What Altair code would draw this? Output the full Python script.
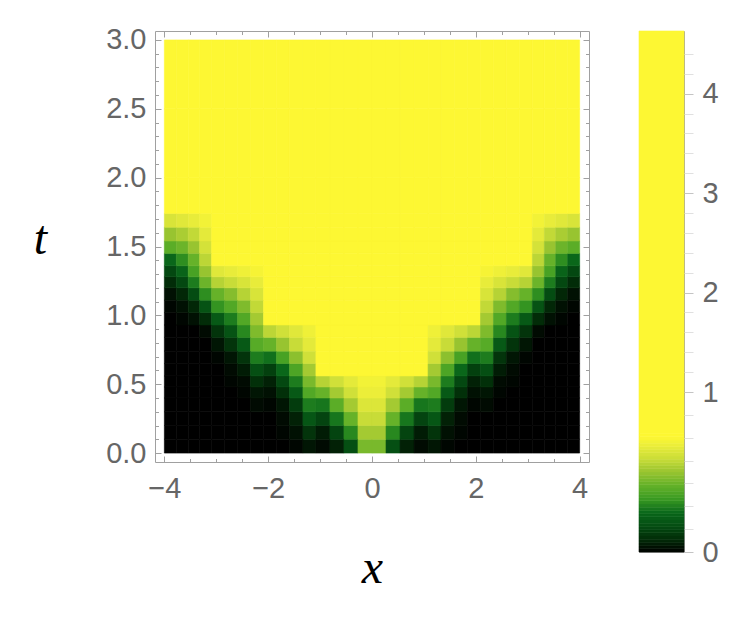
import altair as alt
import pandas as pd
import numpy as np

# cell edges (x blocks and t rows)
X_EDGES = [-4.0, -3.77, -3.54, -3.32, -3.09, -2.84, -2.59, -2.34, -2.09, -1.84, -1.59, -1.33,
           -1.08, -0.81, -0.54, -0.27, 0.0, 0.27, 0.54, 0.81, 1.08, 1.33, 1.59, 1.84,
           2.09, 2.34, 2.59, 2.84, 3.09, 3.32, 3.54, 3.77, 4.0]
T_EDGES = [0.0, 0.1, 0.2, 0.3, 0.4, 0.48, 0.56, 0.65, 0.74, 0.84, 0.93, 1.02, 1.11, 1.2,
           1.28, 1.36, 1.45, 1.54, 1.64, 1.74, 2.0, 2.5, 3.0]

# values, one row per t band (bottom to top), one entry per x cell (left to right)
VALUES = [
    [0, 0, 0, 0, 0, 0, 0, 0, 0, 0, .01, .04, .02, .06, .17, .45, .45, .17, .06, .02, .04, .01, 0, 0, 0, 0, 0, 0, 0, 0, 0, 0],
    [0, 0, 0, 0, 0, 0, 0, 0, 0, .01, .03, .1, .05, .14, .3, .52, .52, .3, .14, .05, .1, .03, .01, 0, 0, 0, 0, 0, 0, 0, 0, 0],
    [0, 0, 0, 0, 0, 0, 0, 0, 0, .02, .06, .19, .14, .27, .42, .58, .58, .42, .27, .14, .19, .06, .02, 0, 0, 0, 0, 0, 0, 0, 0, 0],
    [0, 0, 0, 0, 0, 0, 0, .02, .01, .04, .12, .28, .27, .4, .52, .63, .63, .52, .4, .27, .28, .12, .04, .01, .02, 0, 0, 0, 0, 0, 0, 0],
    [0, 0, 0, 0, 0, 0, .01, .04, .03, .09, .2, .38, .42, .52, .6, .67, .67, .6, .52, .42, .38, .2, .09, .03, .04, .01, 0, 0, 0, 0, 0, 0],
    [0, 0, 0, 0, 0, .01, .02, .09, .06, .15, .28, .45, .55, .6, .65, .69, .69, .65, .6, .55, .45, .28, .15, .06, .09, .02, .01, 0, 0, 0, 0, 0],
    [0, 0, 0, 0, 0, .02, .05, .17, .13, .24, .37, .52, 1.1, 1.1, 1.1, 1.1, 1.1, 1.1, 1.1, 1.1, .52, .37, .24, .13, .17, .05, .02, 0, 0, 0, 0, 0],
    [0, 0, 0, 0, .01, .04, .1, .28, .26, .36, .48, .6, 1.2, 1.2, 1.2, 1.2, 1.2, 1.2, 1.2, 1.2, .6, .48, .36, .26, .28, .1, .04, .01, 0, 0, 0, 0],
    [0, 0, 0, 0, .04, .1, .2, .39, .42, .5, .58, .65, 1.3, 1.3, 1.3, 1.3, 1.3, 1.3, 1.3, 1.3, .65, .58, .5, .42, .39, .2, .1, .04, 0, 0, 0, 0],
    [0, 0, 0, .02, .1, .18, .3, .46, .56, .6, .64, .68, 1.4, 1.4, 1.4, 1.4, 1.4, 1.4, 1.4, 1.4, .68, .64, .6, .56, .46, .3, .18, .1, .02, 0, 0, 0],
    [0, .01, .03, .08, .2, .28, .38, .52, 1.5, 1.5, 1.5, 1.5, 1.5, 1.5, 1.5, 1.5, 1.5, 1.5, 1.5, 1.5, 1.5, 1.5, 1.5, 1.5, .52, .38, .28, .2, .08, .03, .01, 0],
    [.01, .03, .07, .18, .32, .38, .46, .57, 1.6, 1.6, 1.6, 1.6, 1.6, 1.6, 1.6, 1.6, 1.6, 1.6, 1.6, 1.6, 1.6, 1.6, 1.6, 1.6, .57, .46, .38, .32, .18, .07, .03, .01],
    [.03, .07, .16, .31, .42, .47, .55, .62, 1.7, 1.7, 1.7, 1.7, 1.7, 1.7, 1.7, 1.7, 1.7, 1.7, 1.7, 1.7, 1.7, 1.7, 1.7, 1.7, .62, .55, .47, .42, .31, .16, .07, .03],
    [.08, .15, .28, .43, .55, .58, .62, .66, 1.8, 1.8, 1.8, 1.8, 1.8, 1.8, 1.8, 1.8, 1.8, 1.8, 1.8, 1.8, 1.8, 1.8, 1.8, 1.8, .66, .62, .58, .55, .43, .28, .15, .08],
    [.15, .23, .36, .5, .64, .66, .68, .7, 1.9, 1.9, 1.9, 1.9, 1.9, 1.9, 1.9, 1.9, 1.9, 1.9, 1.9, 1.9, 1.9, 1.9, 1.9, 1.9, .7, .68, .66, .64, .5, .36, .23, .15],
    [.24, .31, .42, .56, 2.0, 2.0, 2.0, 2.0, 2.0, 2.0, 2.0, 2.0, 2.0, 2.0, 2.0, 2.0, 2.0, 2.0, 2.0, 2.0, 2.0, 2.0, 2.0, 2.0, 2.0, 2.0, 2.0, 2.0, .56, .42, .31, .24],
    [.4, .43, .5, .61, 2.1, 2.1, 2.1, 2.1, 2.1, 2.1, 2.1, 2.1, 2.1, 2.1, 2.1, 2.1, 2.1, 2.1, 2.1, 2.1, 2.1, 2.1, 2.1, 2.1, 2.1, 2.1, 2.1, 2.1, .61, .5, .43, .4],
    [.5, .53, .57, .65, 2.2, 2.2, 2.2, 2.2, 2.2, 2.2, 2.2, 2.2, 2.2, 2.2, 2.2, 2.2, 2.2, 2.2, 2.2, 2.2, 2.2, 2.2, 2.2, 2.2, 2.2, 2.2, 2.2, 2.2, .65, .57, .53, .5],
    [.62, .64, .66, .69, 2.3, 2.3, 2.3, 2.3, 2.3, 2.3, 2.3, 2.3, 2.3, 2.3, 2.3, 2.3, 2.3, 2.3, 2.3, 2.3, 2.3, 2.3, 2.3, 2.3, 2.3, 2.3, 2.3, 2.3, .69, .66, .64, .62],
    [2.6, 2.6, 2.6, 2.6, 2.6, 2.6, 2.6, 2.6, 2.6, 2.6, 2.6, 2.6, 2.6, 2.6, 2.6, 2.6, 2.6, 2.6, 2.6, 2.6, 2.6, 2.6, 2.6, 2.6, 2.6, 2.6, 2.6, 2.6, 2.6, 2.6, 2.6, 2.6],
    [3.4, 3.4, 3.4, 3.4, 3.4, 3.4, 3.4, 3.4, 3.4, 3.4, 3.4, 3.4, 3.4, 3.4, 3.4, 3.4, 3.4, 3.4, 3.4, 3.4, 3.4, 3.4, 3.4, 3.4, 3.4, 3.4, 3.4, 3.4, 3.4, 3.4, 3.4, 3.4],
    [4.4, 4.4, 4.4, 4.4, 4.4, 4.4, 4.4, 4.5, 4.5, 4.5, 4.6, 4.6, 4.6, 4.6, 4.6, 4.6, 4.6, 4.6, 4.6, 4.6, 4.6, 4.6, 4.5, 4.5, 4.5, 4.4, 4.4, 4.4, 4.4, 4.4, 4.4, 4.4],
]

X_MAJOR = [-4, -2, 0, 2, 4]
X_MINOR = [-3.5, -3, -2.5, -1.5, -1, -0.5, 0.5, 1, 1.5, 2.5, 3, 3.5]
T_MAJOR = [0, 0.5, 1.0, 1.5, 2.0, 2.5, 3.0]
T_MINOR = [0.1, 0.2, 0.3, 0.4, 0.6, 0.7, 0.8, 0.9, 1.1, 1.2, 1.3, 1.4, 1.6, 1.7, 1.8, 1.9,
           2.1, 2.2, 2.3, 2.4, 2.6, 2.7, 2.8, 2.9]

CB_MAX = 4.63
CB_MAJOR = [0, 1, 2, 3, 4]
CB_MINOR = [0.143, 0.286, 0.429, 0.571, 0.714, 0.857, 1.2, 1.4, 1.6, 1.8, 2.2, 2.4, 2.6, 2.8,
            3.2, 3.4, 3.6, 3.8, 4.2, 4.4]

# colour function (black -> green -> yellow)
C_DOMAIN = [0, 0.08, 0.16, 0.25, 0.33, 0.41, 0.5, 0.58, 0.66, 0.72, CB_MAX]
C_RANGE = ['#000000', '#022c08', '#044c12', '#0b6a1b', '#3a9a22', '#60b028', '#98c430',
           '#c8dc38', '#e8ec3a', '#fdf733', '#fdf733']

rows = []
for i in range(len(T_EDGES) - 1):
    for j in range(len(X_EDGES) - 1):
        rows.append({'x0': X_EDGES[j], 'x1': X_EDGES[j + 1],
                     't0': T_EDGES[i], 't1': T_EDGES[i + 1], 'v': VALUES[i][j]})
df = pd.DataFrame(rows)

cb_edges = [round(v, 2) for v in np.arange(0, 0.76, 0.02)] + [CB_MAX]
df_cb = pd.DataFrame({'lo': cb_edges[:-1], 'hi': cb_edges[1:]})
df_cb['mid'] = (df_cb['lo'] + df_cb['hi']) / 2
df_cb['a'] = 0.0
df_cb['b'] = 1.0

FRAME = '#a0a0a0'
LABEL = '#666666'
LFONT = 'Liberation Sans'
LSIZE = 29
TFONT = 'Liberation Serif'

cs = alt.Scale(domain=C_DOMAIN, range=C_RANGE, interpolate='rgb', clamp=True, zero=False, nice=False)
xs = alt.Scale(domain=[-4.18, 4.18], nice=False, zero=False)
ys = alt.Scale(domain=[-0.065, 3.065], nice=False, zero=False)

W, H = 434, 431
MAJ, MIN = 6, 3.5


def tick_axis(orient, values, size, **kw):
    return alt.Axis(orient=orient, values=values, tickSize=size, offset=-size, domain=False,
                    grid=False, tickColor=FRAME, tickWidth=1, **kw)


heat = alt.Chart(df).mark_rect(strokeWidth=0.6).encode(
    x=alt.X('x0:Q', scale=xs, axis=tick_axis(
        'bottom', X_MAJOR, MAJ, title='x', labelFont=LFONT, labelFontSize=LSIZE,
        labelColor=LABEL, labelPadding=12, format='d',
        titleFont=TFONT, titleFontStyle='italic', titleFontWeight='normal', titleFontSize=48,
        titleColor='#000000', titleY=126, titleBaseline='alphabetic')),
    x2='x1',
    y=alt.Y('t0:Q', scale=ys, axis=tick_axis(
        'left', T_MAJOR, MAJ, title='t', labelFont=LFONT, labelFontSize=LSIZE,
        labelColor=LABEL, labelPadding=9, format='.1f',
        titleFont=TFONT, titleFontStyle='italic', titleFontWeight='normal', titleFontSize=48,
        titleColor='#000000', titleAngle=0, titleX=-121, titleY=222,
        titleAlign='center', titleBaseline='alphabetic')),
    y2='t1',
    color=alt.Color('v:Q', scale=cs, legend=None),
    stroke=alt.Stroke('v:Q', scale=cs, legend=None),
)

helper = pd.DataFrame({'x0': [0.0], 't0': [1.0]})


def ghost(xo, xv, xsize, yo, yv, ysize):
    return alt.Chart(helper).mark_point(opacity=0).encode(
        x=alt.X('x0:Q', scale=xs, axis=tick_axis(xo, xv, xsize, labels=False, title=None)),
        y=alt.Y('t0:Q', scale=ys, axis=tick_axis(yo, yv, ysize, labels=False, title=None)),
    )


main = alt.layer(
    heat,
    ghost('bottom', X_MINOR, MIN, 'left', T_MINOR, MIN),
    ghost('top', X_MAJOR, MAJ, 'right', T_MAJOR, MAJ),
    ghost('top', X_MINOR, MIN, 'right', T_MINOR, MIN),
).resolve_axis(x='independent', y='independent').properties(width=W, height=H)

cby = alt.Scale(domain=[0, 1, CB_MAX], range=[521, 361, 0], nice=False, zero=False)
cbx = alt.Scale(domain=[0, 1], nice=False, zero=False)

cbar = alt.Chart(df_cb).mark_rect(strokeWidth=0.6).encode(
    y=alt.Y('lo:Q', scale=cby, axis=alt.Axis(
        orient='right', values=CB_MAJOR, tickSize=9, tickColor='#c4c4c4', domain=False,
        grid=False, labelFont=LFONT, labelFontSize=LSIZE, labelColor=LABEL,
        labelPadding=9, format='d', title=None)),
    y2='hi',
    x=alt.X('a:Q', scale=cbx, axis=None), x2='b',
    color=alt.Color('mid:Q', scale=cs, legend=None),
    stroke=alt.Stroke('mid:Q', scale=cs, legend=None),
)
cb_minor = alt.Chart(pd.DataFrame({'lo': [0.0], 'a': [0.0]})).mark_point(opacity=0).encode(
    x=alt.X('a:Q', scale=cbx, axis=None),
    y=alt.Y('lo:Q', scale=cby, axis=alt.Axis(
        orient='right', values=CB_MINOR, tickSize=9, tickColor='#e0e0e0', domain=False,
        grid=False, labels=False, title=None)),
)
colorbar = alt.layer(cbar, cb_minor).resolve_axis(y='independent').properties(width=45, height=521)

chart = alt.hconcat(main, colorbar, spacing=45).properties(
    padding={'left': 24, 'top': 17, 'right': 5, 'bottom': 5}
).configure_view(stroke=FRAME, strokeWidth=1)

chart.save("out.html", embed_options={"renderer": "svg", "actions": False})
